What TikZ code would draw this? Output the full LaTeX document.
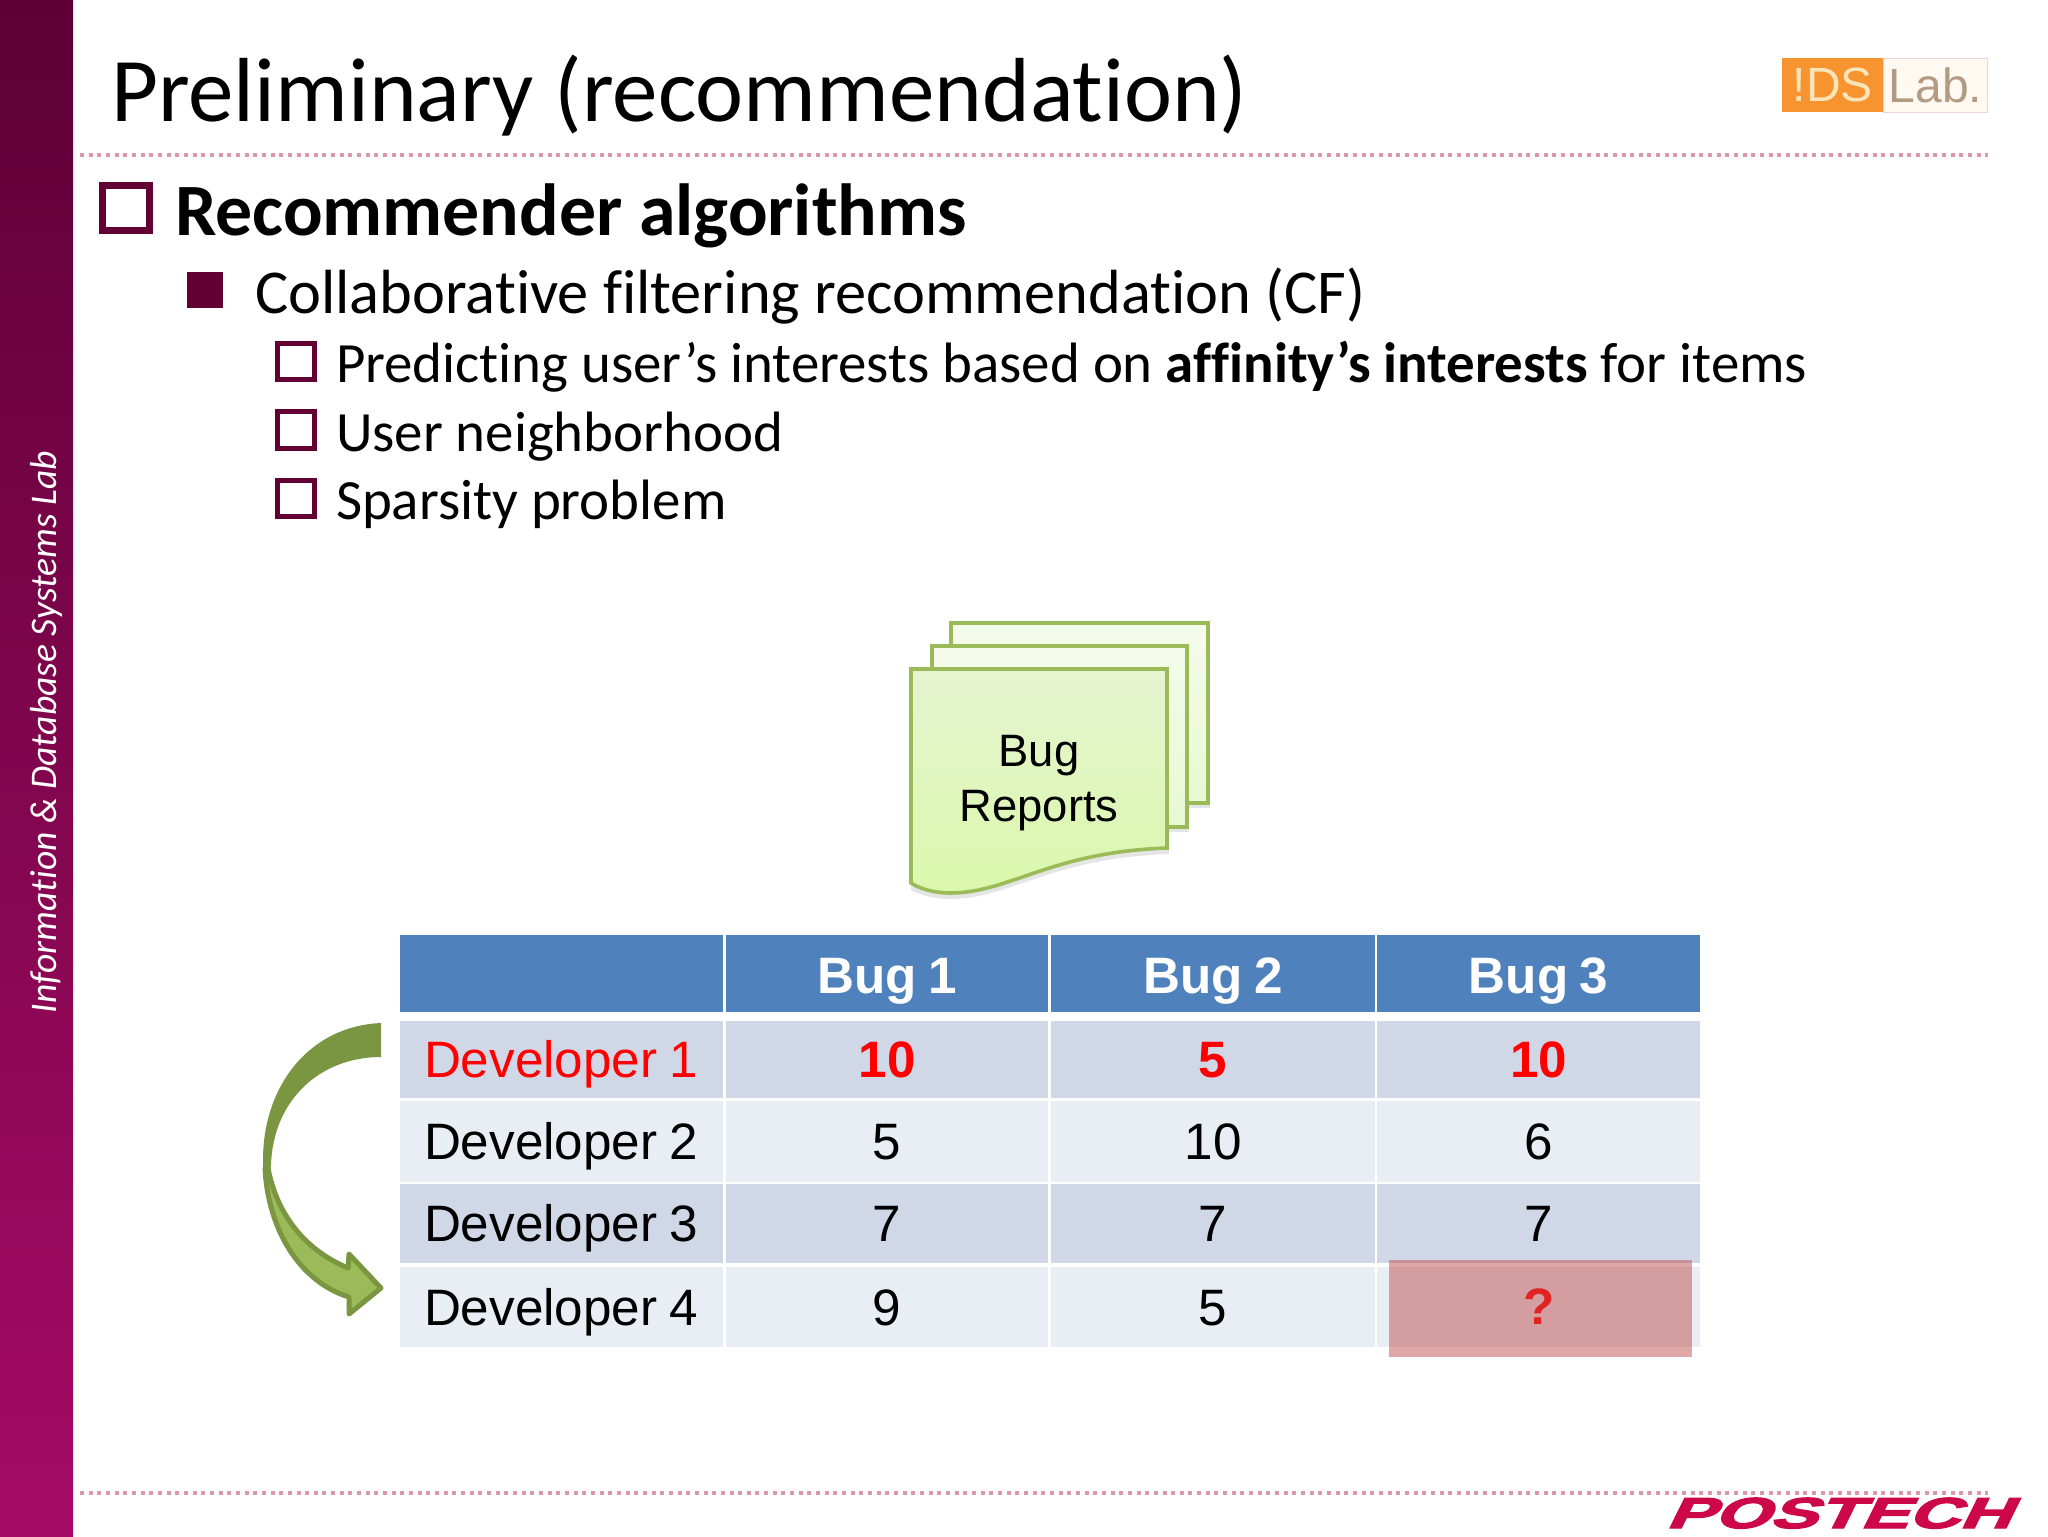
\documentclass[tikz,border=0pt]{standalone}
\usepackage{graphicx}
\usepackage{fontspec}
\setmainfont{Carlito}[Ligatures=NoCommon]
\newfontfamily\arialfont[WordSpace=0.8]{Liberation Sans}
\newfontfamily\postechfont[FakeBold=3,FakeSlant=0.3]{Liberation Sans Bold}
\newcommand{\devname}[1]{\mbox{Developer\kern-2.6pt\ #1}}
\definecolor{plum}{HTML}{620034}
\definecolor{sidetop}{HTML}{5E0037}
\definecolor{sidebot}{HTML}{A50B65}
\definecolor{dotc}{HTML}{DB98A8}
\definecolor{headblue}{HTML}{4F81BD}
\definecolor{rowa}{HTML}{D0D8E8}
\definecolor{rowb}{HTML}{E9EDF4}
\definecolor{docline}{HTML}{9BBB59}
\definecolor{arrowdark}{HTML}{7A9640}
\definecolor{arrowlite}{HTML}{9BBB59}
\definecolor{backtop}{HTML}{F5FBEC}
\definecolor{backbot}{HTML}{E8F8D2}
\definecolor{fronttop}{HTML}{E6F4D0}
\definecolor{frontbot}{HTML}{DAF8AC}
\tikzset{
  x=0.5pt,y=-0.5pt,
  dotrule/.style={draw=dotc,line width=2pt,dash pattern=on 2pt off 2.33pt},
  bigbox/.style={draw=plum,line width=3.3pt},
  smallbox/.style={draw=plum,line width=2.5pt},
  txt/.style={anchor=base west,inner sep=0pt,outer sep=0pt},
  tabletext/.style={font=\arialfont\fontsize{25.6}{28}\selectfont,inner ysep=0pt,outer sep=0pt,text height=18pt,text depth=0pt,anchor=north west},
  cell/.style={tabletext,minimum height=#1,align=center,inner xsep=0pt},
  namecell/.style={tabletext,minimum height=#1,text width=137.5pt,align=left,inner xsep=12pt},
  redcell/.style={font=\arialfont\bfseries\fontsize{25.6}{28}\selectfont,text=red},
  headcell/.style={font=\arialfont\bfseries\fontsize{25.6}{28}\selectfont,text=white,fill=headblue,text height=20.4pt},
  wa/.style={minimum width=161pt},
  wb/.style={minimum width=162pt},
  wc/.style={minimum width=161.5pt},
  shadowfill/.style={fill=black,opacity=0.10},
}
\begin{document}
\begin{tikzpicture}
\useasboundingbox (0,0) rectangle (2048,1536);
\fill[white] (0,0) rectangle (2048,1536);
% sidebar
\shade[top color=sidetop,bottom color=sidebot] (0,0) rectangle (73,1536);
\node[rotate=90,text=white,inner sep=0pt,font=\itshape\fontsize{18.8}{22}\selectfont] (side) at (46,732) {Information \& Database Systems Lab};
% title + rules
\node[txt,font=\fontsize{45.5}{48}\selectfont] (title) at (111,121) {Preliminary (recommendation)};
\coordinate (ruleAl) at (80,155); \coordinate (ruleAr) at (1988,155);
\coordinate (ruleBl) at (80,1493); \coordinate (ruleBr) at (1988,1493);
\draw[dotrule] (ruleAl) -- (ruleAr);
\draw[dotrule] (ruleBl) -- (ruleBr);
% logo IDS Lab
\node[fill={rgb,255:red,247;green,148;blue,48},minimum width=50.5pt,minimum height=27pt,inner sep=0pt,anchor=north west,text={rgb,255:red,252;green,228;blue,185},font=\arialfont\fontsize{24}{26}\selectfont] (idsbox) at (1782,58) {!DS};
\node[draw=dotc!45!white,line width=.5pt,fill={rgb,255:red,255;green,249;blue,242},minimum width=52pt,minimum height=27pt,inner sep=0pt,anchor=north west,text={rgb,255:red,178;green,155;blue,130},font=\arialfont\fontsize{24}{26}\selectfont] (labbox) at (1883,58) {Lab.};
% logo POSTECH
\node[anchor=base,inner sep=0pt,text={rgb,255:red,204;green,8;blue,72}] (postech) at (1838,1528)
  {\scalebox{1.65}[1]{\postechfont\fontsize{21.6}{24}\selectfont POSTECH}};
% headings
\draw[bigbox] (102.5,185.5) rectangle (149.5,230.5);
\node[txt,font=\bfseries\fontsize{36.9}{40}\selectfont] (h1) at (175,235) {Recommender algorithms};
\fill[plum] (187,272) rectangle (223,308);
\node[txt,font=\fontsize{31.2}{36}\selectfont] (h2) at (255,313) {Collaborative filtering recommendation (CF)};
\draw[smallbox] (277.5,343.5) rectangle (314.5,379.5);
\node[txt,font=\fontsize{28.45}{30}\selectfont] (s1) at (336,382.5) {Predicting user’s interests based on \textbf{affinity’s interests} for items};
\draw[smallbox] (277.5,411.5) rectangle (314.5,448.5);
\node[txt,font=\fontsize{28.45}{30}\selectfont] (s2) at (336,451) {User neighborhood};
\draw[smallbox] (277.5,480.5) rectangle (314.5,516.5);
\node[txt,font=\fontsize{28.45}{30}\selectfont] (s3) at (336,519) {Sparsity problem};
% document stack
\fill[shadowfill] (951,627) rectangle (1210,808);
\draw[draw=docline,line width=1.8pt,top color=backtop,bottom color=backbot] (951,623) rectangle (1208,803);
\fill[shadowfill] (932,650) rectangle (1189,832);
\draw[draw=docline,line width=1.8pt,top color=backtop,bottom color=backbot] (932,646) rectangle (1187,827);
\fill[shadowfill] (911,675) -- (1169,675) -- (1169,854) .. controls (1050,858) and (1010,899) .. (950,899) .. controls (935,899) and (920,895) .. (911,890) -- cycle;
\path[draw=docline,line width=1.8pt,top color=fronttop,bottom color=frontbot]
  (911,669) -- (1167,669) -- (1167,848) .. controls (1050,852) and (1010,893) .. (950,893) .. controls (935,893) and (920,889) .. (911,883) -- cycle;
\node[align=center,inner sep=0pt,font=\arialfont\fontsize{22.7}{27.5}\selectfont] (docs) at (1039,783) {Bug\\Reports};
% curved arrow
\fill[arrowdark] (381,1023) .. controls (310,1026) and (263,1085) .. (263,1160) .. controls (263,1175) and (264,1185) .. (266,1195)
  -- (271,1165) .. controls (273,1100) and (320,1057) .. (381,1057) -- cycle;
\filldraw[fill=arrowlite,draw=arrowdark,line width=2.5pt,line join=round]
  (265,1168) .. controls (268,1230) and (300,1282) .. (349,1297) -- (349,1314) -- (381,1288) -- (349,1254) -- (348,1268)
  .. controls (305,1250) and (277,1215) .. (268,1168) -- cycle;
% table
\node[cell=38.5pt,wc,headcell] (hc0) at (400,935) {};
\node[cell=38.5pt,wa,headcell] (hc1) at (726,935) {Bug 1};
\node[cell=38.5pt,wb,headcell] (hc2) at (1051,935) {Bug 2};
\node[cell=38.5pt,wc,headcell] (hc3) at (1377,935) {Bug 3};
\node[namecell=38.5pt,fill=rowa,text=red] (r1c0) at (400,1021) {\devname{1}};
\node[cell=38.5pt,wa,fill=rowa,redcell] (r1c1) at (726,1021) {10};
\node[cell=38.5pt,wb,fill=rowa,redcell] (r1c2) at (1051,1021) {5};
\node[cell=38.5pt,wc,fill=rowa,redcell] (r1c3) at (1377,1021) {10};
\node[namecell=40.5pt,fill=rowb] (r2c0) at (400,1101) {\devname{2}};
\node[cell=40.5pt,wa,fill=rowb] (r2c1) at (726,1101) {5};
\node[cell=40.5pt,wb,fill=rowb] (r2c2) at (1051,1101) {10};
\node[cell=40.5pt,wc,fill=rowb] (r2c3) at (1377,1101) {6};
\node[namecell=39.5pt,fill=rowa] (r3c0) at (400,1184) {\devname{3}};
\node[cell=39.5pt,wa,fill=rowa] (r3c1) at (726,1184) {7};
\node[cell=39.5pt,wb,fill=rowa] (r3c2) at (1051,1184) {7};
\node[cell=39.5pt,wc,fill=rowa] (r3c3) at (1377,1184) {7};
\node[namecell=40pt,fill=rowb] (r4c0) at (400,1267) {\devname{4}};
\node[cell=40pt,wa,fill=rowb] (r4c1) at (726,1267) {9};
\node[cell=40pt,wb,fill=rowb] (r4c2) at (1051,1267) {5};
\node[cell=40pt,wc,fill=rowb] (r4c3) at (1377,1267) {};
% highlight
\fill[fill={rgb,255:red,192;green,80;blue,77},opacity=0.5] (1389,1260) rectangle (1692,1357);
\node[inner sep=0pt,text={rgb,255:red,225;green,35;blue,35},font=\arialfont\bfseries\fontsize{25.6}{28}\selectfont] (qm) at (1539,1307) {?};
\end{tikzpicture}
\end{document}
